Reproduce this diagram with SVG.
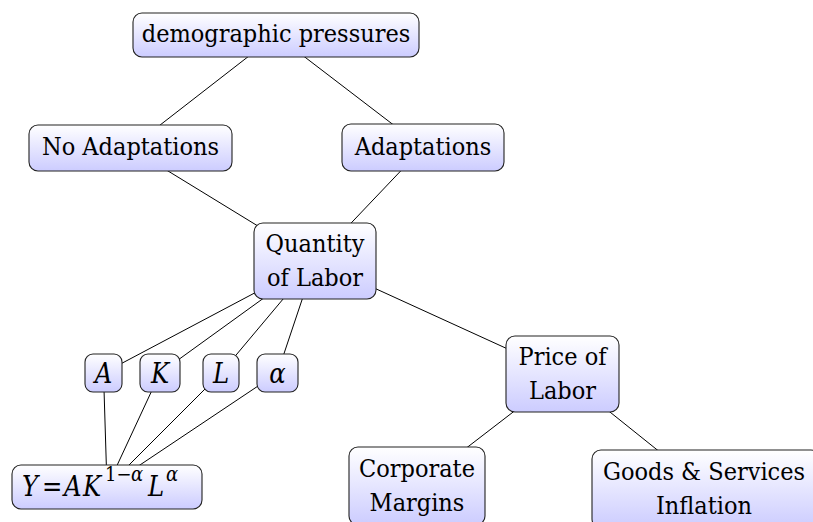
<svg xmlns="http://www.w3.org/2000/svg" width="813" height="522" viewBox="0 0 813 522">
  <defs>
    <linearGradient id="nodeFill" x1="0" y1="0" x2="0" y2="1">
      <stop offset="0" stop-color="#ffffff"/>
      <stop offset="1" stop-color="#ccccff"/>
    </linearGradient>
  </defs>
  <style>
    .box { fill: url(#nodeFill); stroke: #222; stroke-width: 1.1; }
    text { font-family: "DejaVu Serif Condensed", "DejaVu Serif", serif; font-stretch: condensed; font-size: 25px; fill: #000; }
    .lbl { text-anchor: middle; }
    .math { font-style: italic; font-size: 27px; }
    .up { font-style: normal; }
    .edge { stroke: #000; stroke-width: 1; fill: none; }
  </style>
  <rect width="813" height="522" fill="#fff"/>

  <!-- connectors: centre to centre, nodes are painted above -->
  <g id="edges" class="edge">
    <line x1="276" y1="35" x2="130.5" y2="148"/>
    <line x1="276" y1="35" x2="423" y2="147.5"/>
    <line x1="130.5" y1="148" x2="315" y2="261"/>
    <line x1="423" y1="147.5" x2="315" y2="261"/>
    <line x1="315" y1="261" x2="103.5" y2="373"/>
    <line x1="315" y1="261" x2="160" y2="373"/>
    <line x1="315" y1="261" x2="221" y2="373"/>
    <line x1="315" y1="261" x2="277.5" y2="373"/>
    <line x1="103.5" y1="373" x2="107" y2="487"/>
    <line x1="160" y1="373" x2="107" y2="487"/>
    <line x1="221" y1="373" x2="107" y2="487"/>
    <line x1="277.5" y1="373" x2="107" y2="487"/>
    <line x1="315" y1="261" x2="562.5" y2="374"/>
    <line x1="562.5" y1="374" x2="417" y2="486"/>
    <line x1="562.5" y1="374" x2="706" y2="489"/>
  </g>

  <g id="demographic">
    <rect class="box" x="133" y="13" width="286" height="44" rx="9"/>
    <text class="lbl" x="276" y="42">demographic pressures</text>
  </g>
  <g id="no-adaptations">
    <rect class="box" x="29" y="125" width="203" height="46" rx="9"/>
    <text class="lbl" x="130.5" y="155">No Adaptations</text>
  </g>
  <g id="adaptations">
    <rect class="box" x="342" y="124" width="162" height="47" rx="9"/>
    <text class="lbl" x="423" y="155">Adaptations</text>
  </g>
  <g id="quantity">
    <rect class="box" x="254" y="223" width="122" height="76" rx="9"/>
    <text class="lbl" x="315" y="252">Quantity</text>
    <text class="lbl" x="315" y="286">of Labor</text>
  </g>
  <g id="var-a">
    <rect class="box" x="85" y="354" width="37" height="38" rx="8"/>
    <text class="math lbl" x="103.5" y="383">A</text>
  </g>
  <g id="var-k">
    <rect class="box" x="140" y="354" width="40" height="38" rx="8"/>
    <text class="math lbl" x="160" y="383">K</text>
  </g>
  <g id="var-l">
    <rect class="box" x="203" y="354" width="36" height="38" rx="8"/>
    <text class="math lbl" x="221" y="383">L</text>
  </g>
  <g id="var-alpha">
    <rect class="box" x="257" y="354" width="41" height="38" rx="8"/>
    <text class="math lbl" x="277.5" y="383">α</text>
  </g>
  <g id="production">
    <rect class="box" x="12" y="465" width="190" height="44" rx="9"/>
    <text class="math" y="496"><tspan x="22">Y</tspan><tspan class="up" x="42">=</tspan><tspan x="64">A</tspan><tspan x="83">K</tspan><tspan x="105" y="481" font-size="20" class="up">1−</tspan><tspan x="131" y="481" font-size="20">α</tspan><tspan x="148" y="496">L</tspan><tspan x="166" y="481" font-size="20">α</tspan></text>
  </g>
  <g id="price">
    <rect class="box" x="506" y="336" width="113" height="76" rx="9"/>
    <text class="lbl" x="562.5" y="365">Price of</text>
    <text class="lbl" x="562.5" y="399">Labor</text>
  </g>
  <g id="margins">
    <rect class="box" x="349" y="447" width="136" height="78" rx="9"/>
    <text class="lbl" x="417" y="477">Corporate</text>
    <text class="lbl" x="417" y="511">Margins</text>
  </g>
  <g id="inflation">
    <rect class="box" x="592" y="450" width="228" height="78" rx="9"/>
    <text class="lbl" x="704" y="480">Goods &amp; Services</text>
    <text class="lbl" x="704" y="514">Inflation</text>
  </g>
</svg>
